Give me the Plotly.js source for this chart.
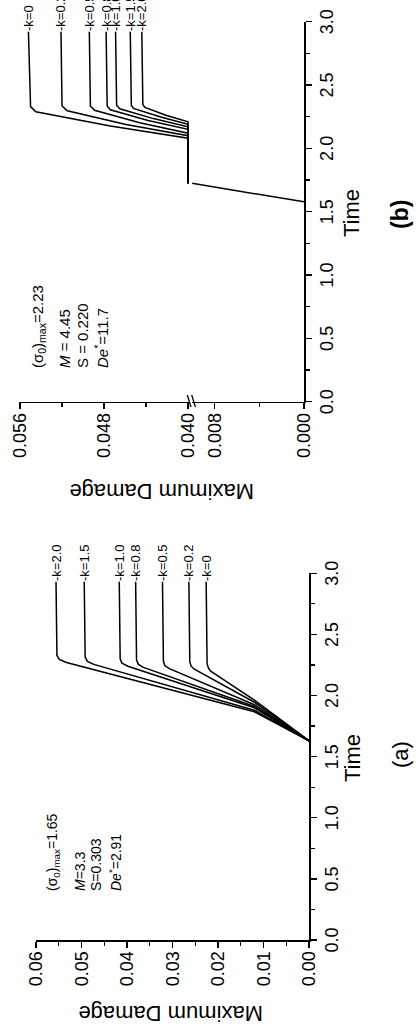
<!DOCTYPE html>
<html>
<head>
<meta charset="utf-8">
<script src="https://cdn.plot.ly/plotly-3.0.1.min.js"></script>
<style>
html, body { margin:0; padding:0; width:418px; height:1026px; overflow:hidden; background:#fff; }
#wrap { position:absolute; left:0; top:0; width:1026px; height:418px; transform-origin:0 0; transform: translate(0px, 1026px) rotate(-90deg); }
#chart { width:1026px; height:418px; }
</style>
</head>
<body>
<div id="wrap"><div id="chart"></div></div>
<script>
// Panel (a)
const aK = ['k=2.0','k=1.5','k=1.0','k=0.8','k=0.5','k=0.2','k=0'];
const aTime = [
 [1.63,1.867,2.27,2.295,2.33,2.93],
 [1.63,1.88,2.255,2.28,2.315,2.93],
 [1.63,1.90,2.24,2.265,2.30,2.93],
 [1.63,1.91,2.23,2.255,2.29,2.93],
 [1.63,1.925,2.22,2.245,2.28,2.93],
 [1.63,1.945,2.215,2.24,2.275,2.93],
 [1.63,1.962,2.20,2.225,2.26,2.93]];
const aDamage = [
 [0,0.0120,0.0533,0.0549,0.0554,0.0556],
 [0,0.0120,0.0473,0.0487,0.0492,0.0494],
 [0,0.0120,0.0398,0.0411,0.0415,0.0417],
 [0,0.0120,0.0364,0.0375,0.0379,0.0381],
 [0,0.0120,0.0307,0.0317,0.0320,0.0322],
 [0,0.0120,0.0252,0.0259,0.0262,0.0264],
 [0,0.0120,0.0216,0.0221,0.0224,0.0226]];
const aParams = ['(σ<sub>0</sub>)<sub>max</sub>=1.65','<i>M</i>=3.3','S=0.303','<i>De</i><sup>*</sup>=2.91'];

// Panel (b)
const bK = ['k=0','k=0.2','k=0.5','k=0.8','k=1.0','k=1.5','k=2.0'];
const bLowTime = [1.578, 1.724];
const bLowDamage = [0, 0.0100];
const bTime = [
 [1.724,2.08,2.176,2.249,2.289,2.33,2.92],
 [1.724,2.10,2.189,2.260,2.297,2.335,2.92],
 [1.724,2.12,2.202,2.266,2.301,2.335,2.92],
 [1.724,2.15,2.220,2.276,2.305,2.335,2.92],
 [1.724,2.17,2.235,2.286,2.313,2.34,2.92],
 [1.724,2.19,2.247,2.292,2.316,2.34,2.92],
 [1.724,2.21,2.261,2.302,2.323,2.345,2.92]];
const bDamage = [
 [0.0400,0.0400,0.0474,0.0522,0.0545,0.0550,0.0552],
 [0.0400,0.0400,0.0459,0.0497,0.0515,0.0520,0.0521],
 [0.0400,0.0400,0.0446,0.0475,0.0489,0.0493,0.0494],
 [0.0400,0.0400,0.0438,0.0462,0.0474,0.0477,0.0478],
 [0.0400,0.0400,0.0433,0.0455,0.0465,0.0468,0.0469],
 [0.0400,0.0400,0.0426,0.0444,0.0452,0.0454,0.0455],
 [0.0400,0.0400,0.0421,0.0435,0.0441,0.0443,0.0444]];
const bParams = ['(σ<sub>0</sub>)<sub>max</sub>=2.23','<i>M</i> = 4.45','S = 0.220','<i>De</i><sup>*</sup>=11.7'];

const LW = 1.5;
const traces = [];
aK.forEach((k,i)=>traces.push({x:aTime[i], y:aDamage[i], xaxis:'x', yaxis:'y', mode:'lines', line:{color:'#000', width:LW}, name:k}));
traces.push({x:bLowTime, y:bLowDamage, xaxis:'x2', yaxis:'y2', mode:'lines', line:{color:'#000', width:LW}, name:'b-low'});
bK.forEach((k,i)=>traces.push({x:bTime[i], y:bDamage[i], xaxis:'x2', yaxis:'y3', mode:'lines', line:{color:'#000', width:LW}, name:k}));

const tickFont = {size:18, color:'#000'};
function xAx(domain, anchor){
  return {domain:domain, anchor:anchor, range:[0,3], tick0:0, dtick:0.5, tickformat:'.1f',
    ticks:'outside', ticklen:6, tickwidth:1.4, tickcolor:'#000',
    minor:{dtick:0.25, tick0:0, ticks:'outside', ticklen:4, tickwidth:1.2, tickcolor:'#000'},
    showline:true, linewidth:1.7, linecolor:'#000', showgrid:false, zeroline:false, tickfont:tickFont, fixedrange:true};
}
function yAx(domain, anchor, range, tick0, dtick, mdtick, fmt){
  return {domain:domain, anchor:anchor, range:range, tick0:tick0, dtick:dtick, tickformat:fmt,
    ticks:'outside', ticklen:6, tickwidth:1.4, tickcolor:'#000',
    minor:{dtick:mdtick, tick0:tick0, ticks:'outside', ticklen:4, tickwidth:1.2, tickcolor:'#000'},
    showline:true, linewidth:1.7, linecolor:'#000', showgrid:false, zeroline:false, tickfont:tickFont, fixedrange:true};
}

const W = 1026, H = 418;
const px = u => u / W;
const py = v => 1 - v / H;

const annotations = [];
// k labels
aK.forEach((k,i)=>annotations.push({x:aTime[i][aTime[i].length-1], y:aDamage[i][aDamage[i].length-1], xref:'x', yref:'y', text:'-'+k, showarrow:false, xanchor:'left', yanchor:'middle', xshift:-1, font:{size:13}}));
bK.forEach((k,i)=>annotations.push({x:bTime[i][bTime[i].length-1], y:bDamage[i][bDamage[i].length-1], xref:'x2', yref:'y3', text:'-'+k, showarrow:false, xanchor:'left', yanchor:'middle', xshift:-1, font:{size:13}}));
// parameter blocks
const aParamV = [53, 80, 96, 115];
aParams.forEach((t,i)=>annotations.push({x:px(133), y:py(aParamV[i]), xref:'paper', yref:'paper', text:t, showarrow:false, xanchor:'left', yanchor:'middle', font:{size:14}}));
const bParamV = [39, 65, 82, 101];
bParams.forEach((t,i)=>annotations.push({x:px(656), y:py(bParamV[i]), xref:'paper', yref:'paper', text:t, showarrow:false, xanchor:'left', yanchor:'middle', font:{size:15}}));
// titles
annotations.push({x:px(268), y:py(352), xref:'paper', yref:'paper', text:'Time', showarrow:false, xanchor:'center', yanchor:'middle', font:{size:22}});
annotations.push({x:px(813), y:py(351), xref:'paper', yref:'paper', text:'Time', showarrow:false, xanchor:'center', yanchor:'middle', font:{size:22}});
annotations.push({x:px(271), y:py(400), xref:'paper', yref:'paper', text:'(a)', showarrow:false, xanchor:'center', yanchor:'middle', font:{size:22}});
annotations.push({x:px(811), y:py(400), xref:'paper', yref:'paper', text:'<b>(b)</b>', showarrow:false, xanchor:'center', yanchor:'middle', font:{size:23}});
annotations.push({x:px(12), y:py(171), xref:'paper', yref:'paper', text:'Maximum Damage', textangle:-90, showarrow:false, xanchor:'center', yanchor:'middle', font:{size:22}});
annotations.push({x:px(534), y:py(162), xref:'paper', yref:'paper', text:'Maximum Damage', textangle:-90, showarrow:false, xanchor:'center', yanchor:'middle', font:{size:22}});

const shapes = [
 {type:'line', xref:'paper', yref:'paper', x0:px(631), y0:py(187.3), x1:px(619), y1:py(191), line:{color:'#000', width:1.3}},
 {type:'line', xref:'paper', yref:'paper', x0:px(631), y0:py(191.7), x1:px(619), y1:py(195.4), line:{color:'#000', width:1.3}}
];

const layout = {
  width:W, height:H, margin:{l:0,r:0,t:0,b:0}, showlegend:false,
  paper_bgcolor:'#fff', plot_bgcolor:'#fff',
  font:{family:'"Liberation Sans", Arial, sans-serif', color:'#000'},
  xaxis: xAx([px(86), px(452.7)], 'y'),
  yaxis: yAx([py(309), py(36)], 'x', [0,0.06], 0, 0.01, 0.005, '.2f'),
  xaxis2: xAx([px(624.3), px(1004.3)], 'y2'),
  yaxis2: yAx([py(304), py(192.1)], 'x2', [0,0.0100], 0, 0.008, 0.004, '.3f'),
  yaxis3: yAx([py(190.1), py(19)], 'x2', [0.0398,0.0561], 0.040, 0.008, 0.004, '.3f'),
  annotations:annotations, shapes:shapes
};
Plotly.newPlot('chart', traces, layout, {staticPlot:true, displayModeBar:false});
</script>
</body>
</html>
